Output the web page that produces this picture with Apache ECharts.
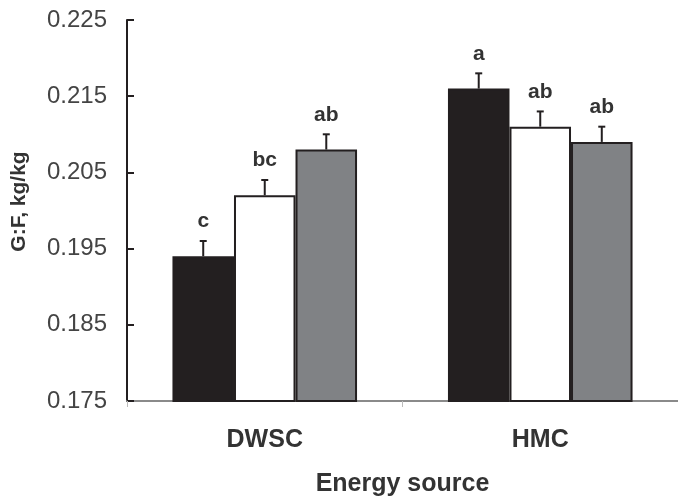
<!DOCTYPE html>
<html>
<head>
<meta charset="utf-8">
<script src="https://cdn.jsdelivr.net/npm/echarts@6/dist/echarts.min.js"></script>
<style>
  html, body { margin: 0; padding: 0; background: #fff; }
  #chart { width: 678px; height: 502px; }
</style>
</head>
<body>
<div id="chart"></div>
<script>
// energy source groups
var categories = ['DWSC', 'HMC'];
// three treatments per group (black, white, grey)
var blackVals = [0.194, 0.216];
var whiteVals = [0.202, 0.211];
var greyVals = [0.208, 0.209];
// upper error (SE)
var blackErr = [0.002, 0.002];
var whiteErr = [0.002, 0.002];
var greyErr = [0.002, 0.002];
// significance letters
var blackLetters = ['c', 'a'];
var whiteLetters = ['bc', 'ab'];
var greyLetters = ['ab', 'ab'];
var yTicks = [0.175, 0.185, 0.195, 0.205, 0.215, 0.225];

var FONT = 'Liberation Sans, Arial, sans-serif';
var groupGap = 0.33;

// table for the error bars: [category, series index, value, err, letter]
var errData = [];
[[blackVals, blackErr, blackLetters], [whiteVals, whiteErr, whiteLetters], [greyVals, greyErr, greyLetters]].forEach(function (s, si) {
	for (var i = 0; i < categories.length; i++) {
		errData.push([i, si, s[0][i], s[1][i], s[2][i]]);
	}
});

var chart = echarts.init(document.getElementById('chart'));

function barSeries(name, data, color) {
	return {
		name: name,
		type: 'bar',
		data: data,
		barGap: '0%',
		barCategoryGap: (groupGap * 100) + '%',
		itemStyle: {
			color: color,
			borderColor: '#231f20',
			borderWidth: 2
		},
		silent: true
	};
}

var option = {
	backgroundColor: '#fff',
	animation: false,
	grid: {
		left: 127,
		top: 20,
		width: 555,
		bottom: 99
	},
	xAxis: {
		type: 'category',
		data: categories,
		name: 'Energy source',
		nameLocation: 'middle',
		nameGap: 71,
		nameTextStyle: { fontFamily: FONT, fontSize: 25, fontWeight: 'bold', color: '#333' },
		axisLine: { lineStyle: { color: '#8a8a8a', width: 2 } },
		axisTick: { show: true, length: 6, lineStyle: { color: '#bbb', width: 1 } },
		axisLabel: { margin: 27, fontFamily: FONT, fontSize: 25, fontWeight: 'bold', color: '#333' }
	},
	yAxis: {
		type: 'value',
		min: yTicks[0],
		max: yTicks[yTicks.length - 1],
		interval: 0.01,
		name: 'G:F, kg/kg',
		nameLocation: 'middle',
		nameGap: 97,
		nameTextStyle: { fontFamily: FONT, fontSize: 21, fontWeight: 'bold', color: '#333', padding: [0, 0, 0, 18] },
		axisLine: { show: true, lineStyle: { color: '#231f20', width: 2 } },
		axisTick: { show: true, inside: true, length: 7, lineStyle: { color: '#231f20', width: 2 } },
		splitLine: { show: false },
		axisLabel: {
			margin: 20,
			fontFamily: FONT,
			fontSize: 24,
			color: '#444',
			formatter: function (v) { return v.toFixed(3); }
		}
	},
	series: [
		barSeries('black', blackVals, '#231f20'),
		barSeries('white', whiteVals, '#ffffff'),
		barSeries('grey', greyVals, '#808285'),
		{
			type: 'custom',
			data: errData,
			silent: true,
			z: 5,
			renderItem: function (params, api) {
				var cat = api.value(0);
				var si = api.value(1);
				var val = api.value(2);
				var err = api.value(3);
				var letter = errData[params.dataIndex][4];
				var band = api.size([1, 0])[0];
				var bw = band * (1 - groupGap) / 3;
				var base = api.coord([cat, val]);
				var x = base[0] + (si - 1) * bw;
				var top = api.coord([cat, val + err])[1];
				return {
					type: 'group',
					children: [
						{ type: 'line', shape: { x1: x, y1: base[1], x2: x, y2: top }, style: { stroke: '#231f20', lineWidth: 2 } },
						{ type: 'line', shape: { x1: x - 3.5, y1: top, x2: x + 3.5, y2: top }, style: { stroke: '#231f20', lineWidth: 2 } },
						{
							type: 'text',
							x: x,
							y: top - 9,
							style: {
								text: letter,
								fill: '#333',
								font: 'bold 21px ' + FONT,
								align: 'center',
								verticalAlign: 'bottom'
							}
						}
					]
				};
			}
		}
	]
};

chart.setOption(option);
</script>
</body>
</html>
